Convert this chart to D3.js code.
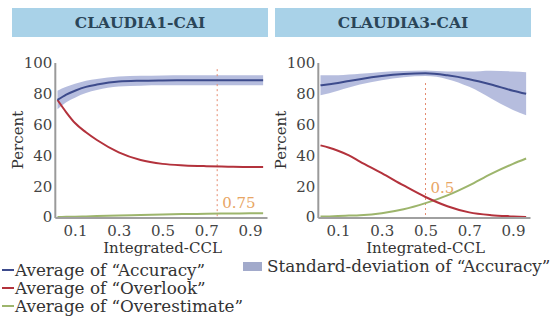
<!DOCTYPE html>
<html>
<head>
<meta charset="utf-8">
<script src="https://cdn.jsdelivr.net/npm/d3@7"></script>
<style>
  body { margin: 0; background: #fff; }
</style>
</head>
<body>
<div id="chart"></div>
<script>
const titles = ['CLAUDIA1-CAI', 'CLAUDIA3-CAI'];
const ccl = [0.02, 0.06, 0.1, 0.15, 0.2, 0.3, 0.4, 0.5, 0.6, 0.7, 0.8, 0.9, 0.96];
const accuracy1 = [76, 79.5, 82, 84.5, 86, 88, 88.5, 88.7, 88.8, 88.8, 88.8, 88.8, 88.8];
const accuracySd1 = [6, 5, 4.5, 4, 3.6, 3.3, 3.2, 3.2, 3.2, 3.2, 3.2, 3.2, 3.2];
const overlook1 = [76, 68, 61, 55, 50, 42, 37, 34.5, 33.5, 33, 32.7, 32.5, 32.5];
const overestimate1 = [0, 0.1, 0.2, 0.4, 0.6, 1, 1.3, 1.6, 1.9, 2.1, 2.3, 2.4, 2.5];
const accuracy3 = [85.5, 86.2, 87, 88.3, 89.5, 91.5, 92.8, 93.3, 92, 89.5, 86, 82, 80];
const accuracySd3 = [6.5, 5.8, 5, 4.2, 3.5, 2.7, 2, 1.8, 2.5, 5, 9, 12.5, 14];
const overlook3 = [46.5, 45, 43, 40, 36, 28.5, 20.5, 13, 7, 3, 1.2, 0.4, 0];
const overestimate3 = [0.3, 0.4, 0.6, 0.9, 1.2, 2.5, 5, 9, 14, 20.5, 28, 34.5, 38];
const thresholds = [0.75, 0.5];
const thresholdTop = [96, 87];
const xTicks = [0.1, 0.3, 0.5, 0.7, 0.9];
const yTicks = [0, 20, 40, 60, 80, 100];

const serif = '"DejaVu Serif", "Noto Serif", "Liberation Serif", serif';

const panels = [
  {title: titles[0], acc: accuracy1, sd: accuracySd1, over: overlook1, est: overestimate1,
   th: thresholds[0], thTop: thresholdTop[0], x0: 75, barX: 12, labelDx: 5, labelY: 6},
  {title: titles[1], acc: accuracy3, sd: accuracySd3, over: overlook3, est: overestimate3,
   th: thresholds[1], thTop: thresholdTop[1], x0: 338, barX: 275, labelDx: 5, labelY: 15.5}
];

const colAcc = '#3d4b8c', colBand = '#a9b2d8', colOver = '#b3323c', colEst = '#9db56c';

const svg = d3.select('#chart').append('svg')
    .attr('width', 553)
    .attr('height', 327)
    .style('font-family', serif);

const y = d3.scaleLinear().domain([0, 100]).range([217, 63]);

panels.forEach(p => {
  const x = d3.scaleLinear().domain([0.1, 0.9]).range([p.x0, p.x0 + 175]);
  const g = svg.append('g');

  // title bar
  g.append('rect')
      .attr('x', p.barX).attr('y', 8)
      .attr('width', 256).attr('height', 29)
      .attr('fill', '#a9d2e8');
  g.append('text')
      .attr('x', p.barX + 128).attr('y', 28)
      .attr('text-anchor', 'middle')
      .style('font-size', '15.5px')
      .style('font-weight', 'bold')
      .style('fill', '#2a4558')
      .text(p.title);

  // std band
  const area = d3.area()
      .x((d, i) => x(ccl[i]))
      .y0((d, i) => y(d - p.sd[i]))
      .y1((d, i) => y(d + p.sd[i]))
      .curve(d3.curveMonotoneX);
  g.append('path')
      .attr('d', area(p.acc))
      .attr('fill', colBand)
      .attr('opacity', 0.85);

  // threshold marker
  g.append('line')
      .attr('x1', x(p.th)).attr('x2', x(p.th))
      .attr('y1', y(p.thTop)).attr('y2', y(0))
      .attr('stroke', '#e58a6e')
      .attr('stroke-width', 1)
      .attr('stroke-dasharray', '2,3');

  const line = d3.line()
      .x((d, i) => x(ccl[i]))
      .y(d => y(d))
      .curve(d3.curveMonotoneX);

  [[p.est, colEst], [p.over, colOver], [p.acc, colAcc]].forEach(([vals, c]) => {
    g.append('path')
        .attr('d', line(vals))
        .attr('fill', 'none')
        .attr('stroke', c)
        .attr('stroke-width', 2);
  });

  g.append('text')
      .attr('x', x(p.th) + p.labelDx).attr('y', y(p.labelY))
      .style('font-size', '15px')
      .style('fill', '#e8a564')
      .text(String(p.th));

  // axes
  g.append('line')
      .attr('x1', x(0.01)).attr('x2', x(0.01))
      .attr('y1', y(100)).attr('y2', y(0) + 1)
      .attr('stroke', '#9a9a9a').attr('stroke-width', 2);
  g.append('line')
      .attr('x1', x(0.01)).attr('x2', x(0.98))
      .attr('y1', y(0) + 1).attr('y2', y(0) + 1)
      .attr('stroke', '#a0a0a0').attr('stroke-width', 2);

  const yAxis = g.append('g')
      .attr('transform', `translate(${x(0.01) - 1},0)`)
      .call(d3.axisLeft(y).tickValues(yTicks).tickSize(0).tickPadding(2));
  yAxis.attr('font-family', null);
  yAxis.select('.domain').remove();
  yAxis.selectAll('text')
      .style('font-size', '15px')
      .style('fill', '#444');

  const xAxis = g.append('g')
      .attr('transform', `translate(0,${y(0) + 8})`)
      .call(d3.axisBottom(x).tickValues(xTicks).tickSize(0).tickPadding(0));
  xAxis.attr('font-family', null);
  xAxis.select('.domain').remove();
  xAxis.selectAll('text')
      .style('font-size', '15px')
      .style('fill', '#444');

  g.append('text')
      .attr('x', x(0.5)).attr('y', 253)
      .attr('text-anchor', 'middle')
      .style('font-size', '15px')
      .style('fill', '#333')
      .text('Integrated-CCL');

  g.append('text')
      .attr('transform', `translate(${p.barX + 11},${y(50)}) rotate(-90)`)
      .attr('text-anchor', 'middle')
      .style('font-size', '15px')
      .style('fill', '#333')
      .text('Percent');
});

// legend
const legendItems = [
  ['Average of \u201cAccuracy\u201d', colAcc, 270],
  ['Average of \u201cOverlook\u201d', colOver, 288],
  ['Average of \u201cOverestimate\u201d', colEst, 306]
];
legendItems.forEach(([label, c, ly]) => {
  svg.append('line')
      .attr('x1', 2).attr('x2', 14)
      .attr('y1', ly).attr('y2', ly)
      .attr('stroke', c).attr('stroke-width', 2);
  svg.append('text')
      .attr('x', 15).attr('y', ly + 5.5)
      .style('font-size', '16.8px')
      .style('fill', '#333')
      .text(label);
});
svg.append('rect')
    .attr('x', 243).attr('y', 262)
    .attr('width', 19).attr('height', 9)
    .attr('fill', '#a2aacb');
svg.append('text')
    .attr('x', 267).attr('y', 272)
    .style('font-size', '16.8px')
    .style('fill', '#333')
    .text('Standard-deviation of \u201cAccuracy\u201d');
</script>
</body>
</html>
